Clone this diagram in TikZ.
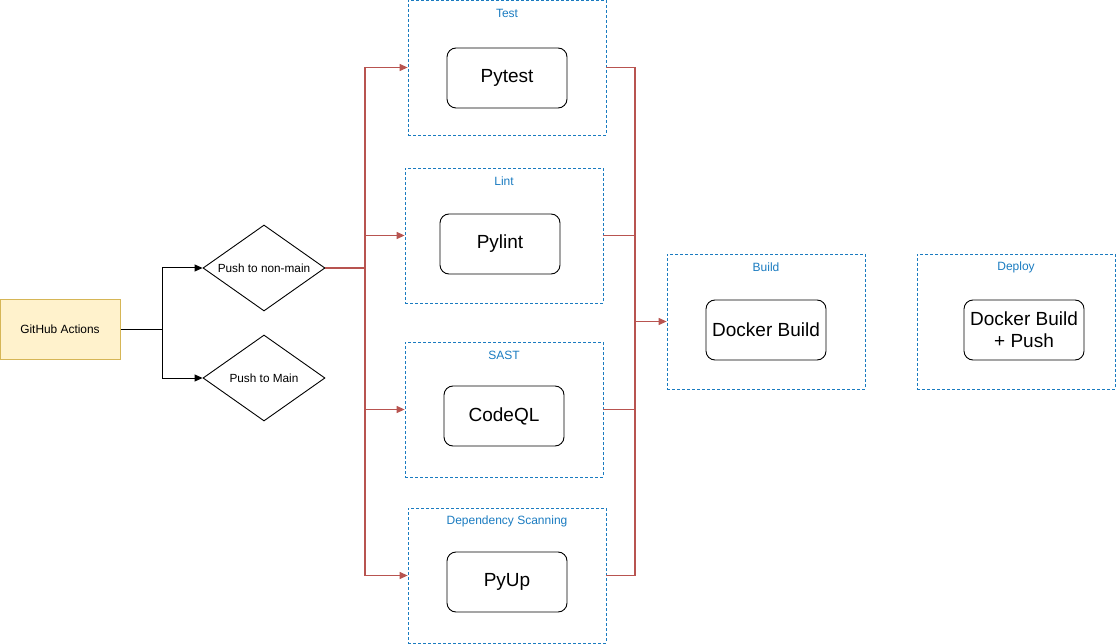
\documentclass[tikz,border=0pt]{standalone}
\usepackage{fontspec}
\setmainfont{Liberation Sans}
\usetikzlibrary{calc,shapes,arrows.meta,positioning}
\definecolor{gafill}{HTML}{FFF2CC}
\definecolor{galine}{HTML}{D6B656}
\definecolor{flowred}{HTML}{B85450}
\definecolor{grpblue}{HTML}{1A7BC0}
\tikzset{
	grp/.style={draw=grpblue,dash pattern=on 3pt off 2pt,line width=0.8pt,minimum width=198pt,minimum height=135pt,inner sep=0pt},
	grplbl/.style={text=grpblue,font=\fontsize{12}{14}\selectfont},
	job/.style={draw,line width=0.9pt,rounded corners=9pt,minimum width=120pt,minimum height=60pt,align=center,font=\fontsize{19}{22}\selectfont},
	trig/.style={diamond,draw,line width=0.9pt,aspect=1.42,minimum width=122pt,minimum height=86pt,inner sep=0pt,font=\fontsize{11.8}{14}\selectfont},
	wire/.style={draw,line width=1pt,-{Triangle[length=8pt,width=7pt]}},
	flow/.style={draw=flowred,line width=1.2pt,-{Triangle[length=8pt,width=7pt]}},
	flowline/.style={draw=flowred,line width=1.2pt},
}
\begin{document}
\begin{tikzpicture}[x=1pt,y=-1pt]
	\useasboundingbox (0,0) rectangle (1116,644);
	% trigger
	\node[draw=galine,fill=gafill,line width=1pt,minimum width=120pt,minimum height=60pt,font=\fontsize{11.9}{14}\selectfont] (gha) at (60,329) {GitHub Actions};
	\node[trig] (nonmain) at (264,268) {Push to non-main};
	\node[trig] (mainpush) at (264,378) {Push to Main};
	\coordinate (split) at (162,329);
	\draw[line width=1pt] (gha.east) -- (split);
	\draw[wire] (split) |- (nonmain.west);
	\draw[wire] (split) |- (mainpush.west);
	% stages
	\foreach \n/\x/\y/\t in {test/507/67.5/Test,lint/504/235.5/Lint,sast/504/409.5/SAST,deps/507/575.5/Dependency Scanning,build/766/321.5/Build,deploy/1016/321.5/Deploy}{
		\node[grp] (\n) at (\x,\y) {};
		\node[grplbl] (\n lbl) at ($(\n.north)+(0,14)$) {\t};
	}
	\node[job] (pytest) at (507,78) {Pytest};
	\node[job] (pylint) at (500,244) {Pylint};
	\node[job] (codeql) at (504,416) {CodeQL};
	\node[job] (pyup) at (507,582) {PyUp};
	\node[job] (docker) at (766,330) {Docker Build};
	\node[job] (push) at (1024,330) {Docker Build\\+ Push};
	% fan out
	\coordinate (fork) at (365,268);
	\draw[flowline] (nonmain.east) -- (fork);
	\foreach \n in {test,lint,sast,deps}
		\draw[flow] (fork) |- (\n.west);
	% join
	\coordinate (join) at (635,321.5);
	\foreach \n in {test,lint,sast,deps}
		\draw[flowline] (\n.east) -| (join);
	\draw[flow] (join) -- (build.west);
\end{tikzpicture}
\end{document}
